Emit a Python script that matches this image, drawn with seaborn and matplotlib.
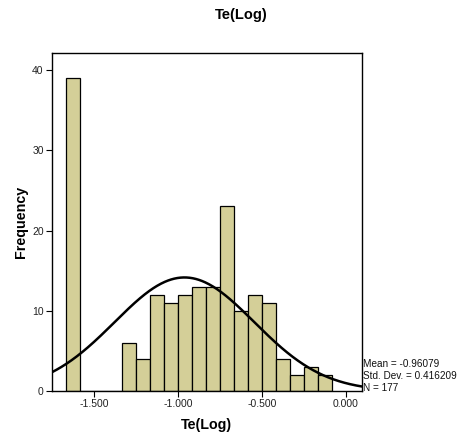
import matplotlib
matplotlib.use("Agg")
import matplotlib.pyplot as plt
import numpy as np
import pandas as pd
import seaborn as sns

# histogram bins (first left edge, width) and counts
bin_start = -1.669
bin_width = 0.0834
counts = [39, 0, 0, 0, 6, 4, 12, 11, 12, 13, 13, 23, 10, 12, 11, 4, 2, 3, 2]

# summary stats printed on the chart
mean = -0.96079
std_dev = 0.416209
n_obs = 177

n_bins = len(counts)
edges = bin_start + bin_width * np.arange(n_bins + 1)
df = pd.DataFrame({'te': (edges[:-1] + edges[1:]) / 2, 'count': counts})

sns.set_style('white')
plt.rcParams['font.family'] = ['Liberation Sans', 'DejaVu Sans']
plt.rcParams['text.color'] = 'black'

fig = plt.figure(figsize=(4.66, 4.43), dpi=100)
ax = fig.add_axes([0.1116, 0.1174, 0.6644, 0.7626])

sns.histplot(data=df, x='te', weights='count', bins=n_bins,
             binrange=(edges[0], edges[-1]), ax=ax,
             color='#D4CF98', edgecolor='black', linewidth=0.9, alpha=1)

# normal curve scaled to counts
xs = np.linspace(-1.75, 0.1, 400)
ys = n_obs * bin_width * np.exp(-0.5 * ((xs - mean) / std_dev) ** 2) / (std_dev * np.sqrt(2 * np.pi))
ax.plot(xs, ys, color='black', linewidth=1.8)

ax.set_xlim(-1.75, 0.095)
ax.set_ylim(0, 42.1)
ax.set_xticks([-1.5, -1.0, -0.5, 0.0])
ax.set_xticklabels(['-1.500', '-1.000', '-0.500', '0.000'])
ax.set_yticks([0, 10, 20, 30, 40])
ax.tick_params(axis='both', direction='out', length=4, width=0.8, labelsize=7.5,
               pad=2, bottom=True, left=True, colors='black', labelcolor='#222222')
for sp in ax.spines.values():
    sp.set_color('black')
    sp.set_linewidth(1.0)

ax.set_xlabel('Te(Log)', fontsize=10.3, fontweight='bold', labelpad=6, color='black')
ax.set_ylabel('Frequency', fontsize=10.3, fontweight='bold', labelpad=3, color='black')
fig.suptitle('Te(Log)', x=0.517, y=0.983, fontsize=10.5, fontweight='bold', color='black')

ax.text(1.005, -0.005, f'Mean = {mean}\nStd. Dev. = {std_dev}\nN = {n_obs}',
        transform=ax.transAxes, fontsize=7.2, ha='left', va='bottom',
        linespacing=1.2, color='#111111')

fig.savefig('out.png', dpi=100)
